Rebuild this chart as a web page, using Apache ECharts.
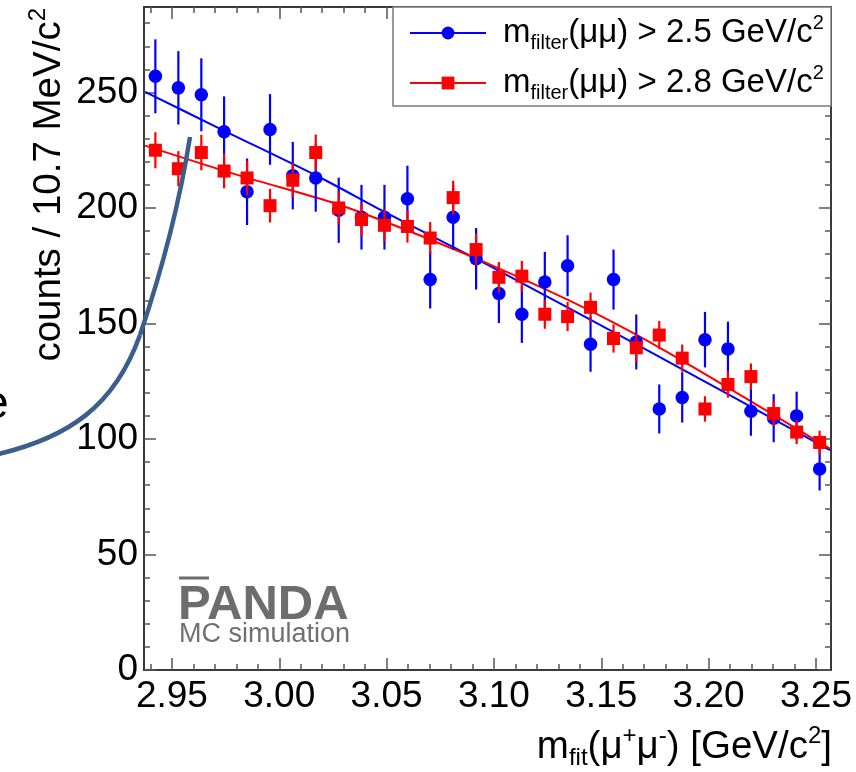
<!DOCTYPE html>
<html><head><meta charset="utf-8">
<script src="https://cdn.jsdelivr.net/npm/echarts@6/dist/echarts.min.js"></script>
<style>html,body{margin:0;padding:0;background:#fff}#c{width:856px;height:772px}</style>
</head><body><div id="c"></div>
<script>
// ---- data ----
const binCenters = [2.9423, 2.9530, 2.9637, 2.9743, 2.9850, 2.9957, 3.0063, 3.0170, 3.0277, 3.0383,
  3.0490, 3.0597, 3.0703, 3.0810, 3.0917, 3.1023, 3.1130, 3.1237, 3.1343, 3.1450,
  3.1557, 3.1663, 3.1770, 3.1877, 3.1983, 3.2090, 3.2197, 3.2303, 3.2410, 3.2517];
const blueCounts = [257, 252, 249, 233, 207, 234, 214, 213, 199, 196,
  196, 204, 169, 196, 178, 163, 154, 168, 175, 141,
  169, 142, 113, 118, 143, 139, 112, 109, 110, 87];
const blueErrors = [16, 15.9, 15.8, 15.3, 14.4, 15.3, 14.6, 14.6, 14.1, 14,
  14, 14.3, 12.5, 14, 13.3, 12.8, 12.4, 13, 13.2, 11.9,
  13, 11.9, 10.6, 10.9, 12, 11.8, 10.6, 10.4, 10.5, 9.3];
const redCounts = [225, 217, 224, 216, 213, 201, 212, 224, 200, 195,
  192.5, 192, 187, 204.5, 182, 170, 170.5, 154, 153, 157,
  143.5, 139.5, 145, 135, 113, 123.6, 127, 111, 103, 98.5];
const redErrors = [7.8, 7.6, 7.7, 7.5, 7.5, 7.3, 7.4, 7.8, 7.2, 7.1,
  7, 7, 6.9, 7.3, 6.8, 6.6, 6.6, 6.3, 6.3, 6.4,
  6.1, 6, 6.1, 5.9, 5.5, 5.7, 5.7, 5.4, 5.2, 5.1];
const blueFit = [[2.9375, 250.3], [2.9720, 234.5], [3.0190, 213.2], [3.0486, 198.5], [3.0980, 174.9],
  [3.1730, 137.6], [3.2565, 95.2]];
const redFit = [[2.9375, 227.0], [2.9820, 213.9], [3.0240, 202.6], [3.0500, 193.8], [3.0980, 175.6],
  [3.1450, 155.5], [3.1820, 137.0], [3.2565, 95.8]];
const xTickLabels = [2.95, 3.00, 3.05, 3.10, 3.15, 3.20, 3.25];
const xMinorTicks = [2.94, 2.96, 2.97, 2.98, 2.99, 3.01, 3.02, 3.03, 3.04, 3.06, 3.07, 3.08, 3.09,
  3.11, 3.12, 3.13, 3.14, 3.16, 3.17, 3.18, 3.19, 3.21, 3.22, 3.23, 3.24];
const yTickLabels = [0, 50, 100, 150, 200, 250];
const yMinorTicks = [10, 20, 30, 40, 60, 70, 80, 90, 110, 120, 130, 140, 160, 170, 180, 190,
  210, 220, 230, 240, 260, 270, 280];
const legendNames = ['m_filter(μμ) > 2.5 GeV/c2', 'm_filter(μμ) > 2.8 GeV/c2'];
const legendRichText = {
  'm_filter(μμ) > 2.5 GeV/c2': '{gap| }{m|m}{sub|filter}{m|(μμ) > 2.5 GeV/c}{sup|2}',
  'm_filter(μμ) > 2.8 GeV/c2': '{gap| }{m|m}{sub|filter}{m|(μμ) > 2.8 GeV/c}{sup|2}'
};
const xMin = 2.937, xMax = 3.257, yMin = 0, yMax = 287;

// ---- styling ----
const FONT = 'Liberation Sans, Arial, sans-serif';
const BLUE = '#0000ff', RED = '#ff0000';
const FRAME = '#3a3a3a', TICK = '#555555';

function xAxisCfg(position, ticks, len, labels) {
  return {
    type: 'value', min: xMin, max: xMax, position: position,
    axisLine: { show: true, onZero: false, lineStyle: { color: FRAME, width: 2 } },
    axisTick: { show: true, inside: true, length: len, customValues: ticks, lineStyle: { color: TICK, width: 1.5 } },
    axisLabel: labels ? { show: true, customValues: labels, formatter: v => v.toFixed(2), fontSize: 37, fontFamily: FONT, color: '#000', margin: 8 } : { show: false },
    splitLine: { show: false }, minorTick: { show: false }
  };
}
function yAxisCfg(position, ticks, len, labels) {
  return {
    type: 'value', min: yMin, max: yMax, position: position,
    axisLine: { show: true, onZero: false, lineStyle: { color: FRAME, width: 2 } },
    axisTick: { show: true, inside: true, length: len, customValues: ticks, lineStyle: { color: TICK, width: 1.5 } },
    axisLabel: labels ? { show: true, customValues: labels, formatter: v => String(v), fontSize: 37, fontFamily: FONT, color: '#000', margin: 6 } : { show: false },
    splitLine: { show: false }, minorTick: { show: false }
  };
}
function errorSeries(counts, errors, color, z) {
  return {
    type: 'custom', silent: true, z: z,
    data: binCenters.map((x, i) => [x, counts[i], errors[i]]),
    renderItem: (params, api) => {
      const x = api.value(0), y = api.value(1), e = api.value(2);
      const p1 = api.coord([x, y - e]), p2 = api.coord([x, y + e]);
      return { type: 'line', shape: { x1: p1[0], y1: p1[1], x2: p2[0], y2: p2[1] }, style: { stroke: color, lineWidth: 2.2 } };
    }
  };
}

const chart = echarts.init(document.getElementById('c'), null, { renderer: 'canvas' });
const richMain = { fontSize: 38.5, fontFamily: FONT, color: '#000', lineHeight: 46 };
const richSub = { fontSize: 24, fontFamily: FONT, color: '#000', lineHeight: 24, verticalAlign: 'bottom' };
const richSup = { fontSize: 24, fontFamily: FONT, color: '#000', lineHeight: 24, verticalAlign: 'top' };
const curveStyle = { stroke: '#3b5e8a', lineWidth: 4.5, fill: null, lineCap: 'butt' };

chart.setOption({
  backgroundColor: '#ffffff',
  animation: false,
  grid: { left: 144, top: 7, right: 25, bottom: 102, show: false, outerBoundsMode: 'none', containLabel: false },
  xAxis: [
    xAxisCfg('bottom', xTickLabels, 12, xTickLabels),
    xAxisCfg('bottom', xMinorTicks, 6, null),
    xAxisCfg('top', xTickLabels, 12, null),
    xAxisCfg('top', xMinorTicks, 6, null)
  ],
  yAxis: [
    yAxisCfg('left', yTickLabels, 12, yTickLabels),
    yAxisCfg('left', yMinorTicks, 6, null),
    yAxisCfg('right', yTickLabels, 12, null),
    yAxisCfg('right', yMinorTicks, 6, null)
  ],
  legend: {
    data: legendNames, orient: 'vertical', left: 409, top: 13, padding: 0, itemGap: 10,
    itemWidth: 76, itemHeight: 16, itemTextGap: 5, z: 6,
    formatter: name => legendRichText[name],
    textStyle: {
      fontFamily: FONT, fontSize: 33, color: '#000',
      rich: {
        gap: { width: 12, fontSize: 10 },
        m: { fontSize: 33, fontFamily: FONT, color: '#000', lineHeight: 40 },
        sub: { fontSize: 20, fontFamily: FONT, color: '#000', lineHeight: 20, verticalAlign: 'bottom' },
        sup: { fontSize: 20, fontFamily: FONT, color: '#000', lineHeight: 20, verticalAlign: 'top' }
      }
    },
    selectedMode: false
  },
  series: [
    { type: 'line', name: legendNames[0], data: blueFit, smooth: 0.3, showSymbol: false, symbol: 'circle', symbolSize: 13,
      lineStyle: { color: BLUE, width: 2 }, itemStyle: { color: BLUE }, z: 2, silent: true },
    { type: 'line', name: legendNames[1], data: redFit, smooth: 0.3, showSymbol: false, symbol: 'rect', symbolSize: 13,
      lineStyle: { color: RED, width: 2 }, itemStyle: { color: RED }, z: 2, silent: true },
    errorSeries(blueCounts, blueErrors, BLUE, 3),
    { type: 'scatter', data: binCenters.map((x, i) => [x, blueCounts[i]]), symbol: 'circle', symbolSize: 13.5,
      itemStyle: { color: BLUE, opacity: 1 }, z: 3, silent: true },
    errorSeries(redCounts, redErrors, RED, 4),
    { type: 'scatter', data: binCenters.map((x, i) => [x, redCounts[i]]), symbol: 'rect', symbolSize: 13,
      itemStyle: { color: RED, opacity: 1 }, z: 4, silent: true }
  ],
  graphic: [
    { type: 'rect', z: 5, shape: { x: 393, y: 7, width: 438, height: 99 },
      style: { fill: '#ffffff', stroke: '#7a7a7a', lineWidth: 1.5 } },
    { type: 'text', z: 6, x: 49, y: 8, rotation: Math.PI / 2,
      style: { text: '{m|counts / 10.7 MeV/c}{sup|2}', align: 'right', verticalAlign: 'middle',
        rich: { m: richMain, sup: richSup } } },
    { type: 'text', z: 6, x: 832, y: 747,
      style: { text: '{m|m}{sub|fit}{m|(μ}{sup|+}{m|μ}{sup|-}{m|) [GeV/c}{sup|2}{m|]}', align: 'right', verticalAlign: 'middle',
        rich: { m: richMain, sub: richSub, sup: richSup } } },
    { type: 'text', z: 6, x: 178, y: 605,
      style: { text: 'PANDA', font: 'bold 49px ' + FONT, fill: '#6d6d6d', align: 'left', verticalAlign: 'middle' } },
    { type: 'line', z: 6, shape: { x1: 179, y1: 578, x2: 209, y2: 578 }, style: { stroke: '#6d6d6d', lineWidth: 3 } },
    { type: 'text', z: 6, x: 179, y: 635,
      style: { text: 'MC simulation', font: '27px ' + FONT, fill: '#707070', align: 'left', verticalAlign: 'middle' } },
    { type: 'text', z: 6, x: -17, y: 405,
      style: { text: 'e', font: '46px ' + FONT, fill: '#000', align: 'left', verticalAlign: 'middle' } },
    { type: 'bezierCurve', z: 10, silent: true,
      shape: { x1: -6, y1: 455, cpx1: 70, cpy1: 438, cpx2: 115, cpy2: 405, x2: 140, y2: 335 },
      style: curveStyle },
    { type: 'bezierCurve', z: 10, silent: true,
      shape: { x1: 140, y1: 335, cpx1: 162, cpy1: 270, cpx2: 180, cpy2: 200, x2: 190, y2: 137 },
      style: curveStyle }
  ]
});
</script></body></html>
